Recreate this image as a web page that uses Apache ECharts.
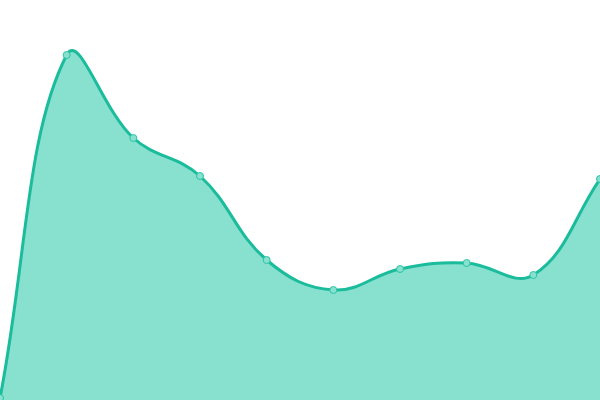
<!DOCTYPE html>
<html><head><meta charset="utf-8">
<script src="https://cdn.jsdelivr.net/npm/echarts@6/dist/echarts.min.js"></script>
<style>html,body{margin:0;padding:0;background:#fff}#c{width:600px;height:400px}</style>
</head><body><div id="c"></div>
<script>
const categories = ['1','2','3','4','5','6','7','8','9','10'];
const values = [2, 345, 262, 224, 140, 110, 131, 137, 125, 221];
const TENSION = 0.4;
const LINE = '#1abc9c';
const FILL = '#88e0cf';

function splinePath(pts) {
  const n = pts.length;
  const cps = pts.map((p, i) => {
    const prev = pts[i - 1] || p, next = pts[i + 1] || p;
    const d01 = Math.hypot(p[0] - prev[0], p[1] - prev[1]);
    const d12 = Math.hypot(next[0] - p[0], next[1] - p[1]);
    let s01 = d01 / (d01 + d12), s12 = d12 / (d01 + d12);
    if (isNaN(s01)) s01 = 0; if (isNaN(s12)) s12 = 0;
    const fa = TENSION * s01, fb = TENSION * s12;
    return {
      prev: [p[0] - fa * (next[0] - prev[0]), p[1] - fa * (next[1] - prev[1])],
      next: [p[0] + fb * (next[0] - prev[0]), p[1] + fb * (next[1] - prev[1])]
    };
  });
  let d = 'M' + pts[0][0] + ' ' + pts[0][1];
  for (let i = 1; i < n; i++) {
    const a = cps[i - 1].next, b = cps[i].prev, p = pts[i];
    d += ' C' + a[0] + ' ' + a[1] + ' ' + b[0] + ' ' + b[1] + ' ' + p[0] + ' ' + p[1];
  }
  return d;
}

const chart = echarts.init(document.getElementById('c'));
chart.setOption({
  animation: false,
  grid: {left: 0, right: 0, top: 0, bottom: 0},
  xAxis: {type: 'category', data: categories, boundaryGap: false, show: false},
  yAxis: {type: 'value', min: 0, max: 400, show: false},
  series: [{
    type: 'custom',
    data: values.map((v, i) => [i, v]),
    encode: {x: 0, y: 1},
    clip: true,
    z: 1,
    renderItem: function (params, api) {
      if (params.dataIndex !== 0) return null;
      const pts = values.map((v, i) => api.coord([i, v]));
      const base = api.coord([0, 0])[1];
      const line = splinePath(pts);
      const area = line + ' L' + pts[pts.length - 1][0] + ' ' + base + ' L' + pts[0][0] + ' ' + base + ' Z';
      return {
        type: 'group',
        children: [
          {type: 'path', shape: {pathData: area}, style: {fill: FILL, stroke: null}},
          {type: 'path', shape: {pathData: line}, style: {fill: null, stroke: LINE, lineWidth: 3, lineJoin: 'round'}}
        ]
      };
    }
  }, {
    type: 'line', data: values, z: 2,
    symbol: 'circle', symbolSize: 7,
    lineStyle: {opacity: 0},
    itemStyle: {color: FILL, borderColor: '#2cc4a6', borderWidth: 1}
  }]
});
</script></body></html>
